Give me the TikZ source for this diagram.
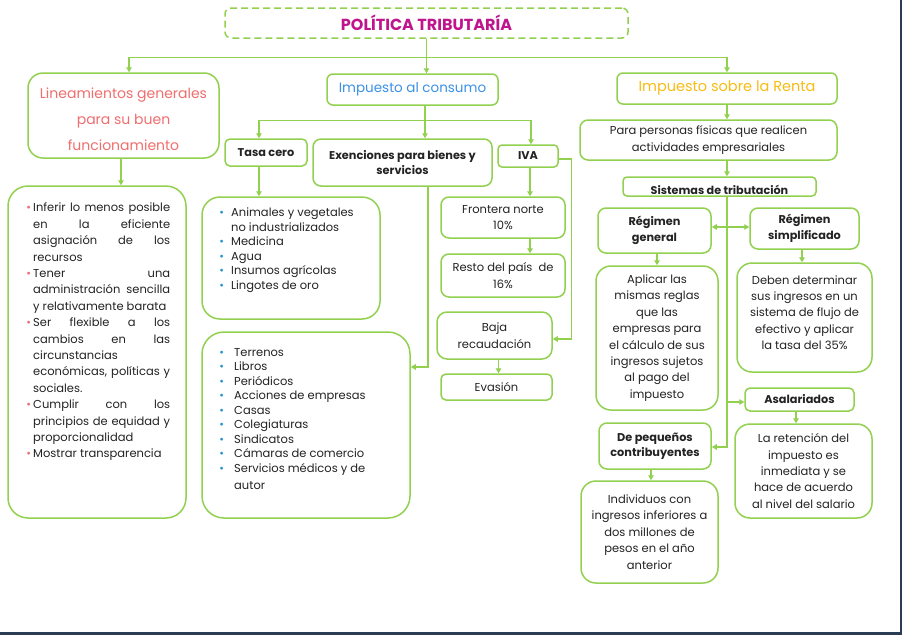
\documentclass[tikz,border=0pt]{standalone}
\usepackage{fontspec}
\setmainfont{Poppins}
\usetikzlibrary{arrows.meta}
\definecolor{gr}{RGB}{146,208,80}
\definecolor{mag}{RGB}{192,20,140}
\definecolor{sal}{RGB}{240,110,110}
\definecolor{blu}{RGB}{60,145,230}
\definecolor{yel}{RGB}{248,188,20}
\definecolor{bdot}{RGB}{40,150,210}
\definecolor{pdot}{RGB}{235,110,120}
\definecolor{tx}{RGB}{35,35,35}
\definecolor{frm}{RGB}{45,60,85}
\newcommand\jl[1]{\makebox[137pt][s]{#1}}
\newcommand\pb{\llap{\textcolor{pdot}{\textbullet}\hspace{2pt}}}
\newcommand\bb{\llap{\textcolor{bdot}{\textbullet}\hspace{7pt}}}
\newcommand\bbb{\llap{\textcolor{bdot}{\textbullet}\hspace{10pt}}}
\begin{document}
\begin{tikzpicture}[x=1pt,y=-1pt,
 bx/.style={draw=gr,line width=1.5pt,rounded corners=#1,inner sep=0pt,align=center,fill=white,text=tx},
 bx/.default=6pt,
 body/.style={font=\fontsize{11.5}{16.4}\selectfont},
 bold/.style={font=\fontsize{11.3}{15.5}\selectfont\bfseries},
 conn/.style={draw=gr,line width=1.2pt,-{Triangle[width=5.5pt,length=5pt]}},
 ln/.style={draw=gr,line width=1.2pt},
 txt/.style={inner sep=0pt,align=left,text=tx}]
\useasboundingbox (0,0) rectangle (902,635);
\fill[white] (0,0) rectangle (902,635);
\fill[frm] (0,632) rectangle (902,635);
\fill[frm] (899.5,0) rectangle (902,635);

% boxes
\node[bx=6pt,dash pattern=on 7pt off 4pt,minimum width=403pt,minimum height=30pt,
  font=\fontsize{16}{18}\selectfont\bfseries,text=mag] (title) at (426.5,23) {POLÍTICA TRIBUTARÍA};
\node[bx=15pt,minimum width=191pt,minimum height=85pt] (lin) at (123.5,115.5) {};
\node[inner sep=0pt,align=center,font=\fontsize{14}{26}\selectfont,text=sal]
  (lint) at (123.5,119) {Lineamientos generales\\para su buen\\funcionamiento};
\node[bx=6pt,minimum width=171pt,minimum height=31pt,font=\fontsize{13.5}{15}\selectfont,text=blu]
  (cons) at (412.5,89.5) {Impuesto al consumo};
\node[bx=6pt,minimum width=220pt,minimum height=31pt,font=\fontsize{14.5}{16}\selectfont,text=yel]
  (renta) at (727,88.5) {Impuesto sobre la Renta};
\node[bx=20pt,minimum width=178pt,minimum height=332pt] (left) at (97,352) {};
\node[bx=5pt,bold,minimum width=82pt,minimum height=27pt] (tasa) at (266,152.5) {Tasa cero};
\node[bx=8pt,bold,minimum width=179pt,minimum height=47pt] (exen) at (402.5,162.5) {Exenciones para bienes y\\servicios};
\node[bx=4pt,bold,minimum width=60pt,minimum height=22pt] (iva) at (528,156) {IVA};
\node[bx=18pt,minimum width=178pt,minimum height=122pt] (list1) at (291,258) {};
\node[bx=22pt,minimum width=208pt,minimum height=186pt] (list2) at (306,425) {};
\node[bx=8pt,body,minimum width=124pt,minimum height=41pt] (front) at (503,217.5) {Frontera norte\\10\%};
\node[bx=8pt,body,minimum width=124pt,minimum height=43pt] (resto) at (503,275.5) {Resto del país\ \ de\\16\%};
\node[bx=10pt,body,minimum width=115pt,minimum height=47pt] (baja) at (494.5,335.5) {Baja\\recaudación};
\node[bx=5pt,body,minimum width=111pt,minimum height=26pt] (evas) at (496.5,387) {Evasión};
\node[bx=8pt,body,minimum width=257pt,minimum height=40pt] (para) at (708.5,140) {Para personas físicas que realicen\\actividades empresariales};
\node[bx=4pt,minimum width=193pt,minimum height=19pt] (sist) at (719.5,186.5) {};
\begin{scope}
\clip ([shift={(2pt,2.8pt)}]sist.south west) rectangle ([shift={(-2pt,-1pt)}]sist.north east);
\node[inner sep=0pt,anchor=base,font=\fontsize{11.2}{12}\selectfont\bfseries,text=tx] (sistt) at (719.5,194.2) {Sistemas de tributación};
\end{scope}
\node[bx=8pt,bold,minimum width=113pt,minimum height=45pt] (rgen) at (654.5,230.5) {Régimen\\general};
\node[bx=8pt,bold,minimum width=109pt,minimum height=41pt] (rsim) at (804.5,228.5) {Régimen\\simplificado};
\node[bx=15pt,body,minimum width=122pt,minimum height=144pt] (apl) at (657,338)
  {Aplicar las\\mismas reglas\\que las\\empresas para\\el cálculo de sus\\ingresos sujetos\\al pago del\\impuesto};
\node[bx=15pt,minimum width=135pt,minimum height=109pt] (deben) at (804.5,317.5) {};
\node[txt,body,align=center] (debent) at (804.5,312.5)
  {Deben determinar\\sus ingresos en un\\sistema de flujo de\\efectivo y aplicar\\la tasa del 35\%};
\node[bx=5pt,bold,minimum width=109pt,minimum height=23pt] (asal) at (799.5,399.5) {Asalariados};
\node[bx=15pt,body,minimum width=137pt,minimum height=94pt] (ret) at (803.5,471)
  {La retención del\\impuesto es\\inmediata y se\\hace de acuerdo\\al nivel del salario};
\node[bx=8pt,bold,minimum width=112pt,minimum height=46pt] (peq) at (655,446) {De pequeños\\contribuyentes};
\node[bx=15pt,body,minimum width=137pt,minimum height=102pt] (ind) at (649.5,532)
  {Individuos con\\ingresos inferiores a\\dos millones de\\pesos en el año\\anterior};

% list texts
\node[txt,anchor=north west,body] (leftt) at (33,203) {%
\pb\jl{Inferir lo menos posible}\\
\jl{en la eficiente}\\
\jl{asignación de los}\\
recursos\\
\pb\jl{Tener una}\\
\jl{administración sencilla}\\
y relativamente barata\\
\pb\jl{Ser flexible a los}\\
\jl{cambios en las}\\
circunstancias\\
\jl{económicas, políticas y}\\
sociales.\\
\pb\jl{Cumplir con los}\\
\jl{principios de equidad y}\\
proporcionalidad\\
\pb Mostrar transparencia};
\node[txt,anchor=north west,font=\fontsize{11.5}{14.5}\selectfont] (l1t) at (231,208) {%
\bb Animales y vegetales\\no industrializados\\\bb Medicina\\\bb Agua\\\bb Insumos agrícolas\\\bb Lingotes de oro};
\node[txt,anchor=north west,font=\fontsize{11.5}{14.5}\selectfont] (l2t) at (234,348) {%
\bbb Terrenos\\\bbb Libros\\\bbb Periódicos\\\bbb Acciones de empresas\\\bbb Casas\\\bbb Colegiaturas\\\bbb Sindicatos\\\bbb Cámaras de comercio\\\bbb Servicios médicos y de\\[2.5pt]autor};

% connectors
\draw[ln] (title.south) -- ++(0,19) coordinate (j0);
\draw[conn] (j0) -| ([xshift=5.5pt]lin.north);
\draw[conn] (j0) -- (j0 |- cons.north);
\draw[conn] (j0) -| (renta.north);
\draw[conn] ([xshift=-2.5pt]lin.south) coordinate (t1) -- (t1 |- left.north);
\draw[ln] ([xshift=12.5pt]cons.south) -- ++(0,15) coordinate (j1);
\draw[conn] (j1) -| ([xshift=-7pt]tasa.north);
\draw[conn] (j1) -- (j1 |- exen.north);
\draw[conn] (j1) -| ([xshift=3pt]iva.north);
\draw[conn] ([xshift=-7pt]tasa.south) coordinate (t2) -- (t2 |- list1.north);
\draw[conn] ([xshift=25.5pt]exen.south) |- ([yshift=58pt]list2.east);
\draw[conn] ([xshift=2pt]iva.south) coordinate (t3) -- (t3 |- front.north);
\draw[conn] ([yshift=-3pt]iva.east) -- ++(13,0) |- ([yshift=-3.5pt]baja.east);
\draw[conn] ([xshift=27pt]front.south) coordinate (t4) -- (t4 |- resto.north);
\draw[conn] ([xshift=4pt]baja.south) coordinate (t5) -- (t5 |- evas.north);
\draw[conn] (renta.south) -- (renta.south |- para.north);
\draw[conn] (renta.south |- para.south) -- (renta.south |- sist.north);
\draw[conn] (renta.south |- sist.south) |- ([yshift=-1pt]peq.east);
\coordinate (ja) at (727,227);
\draw[conn] (ja) -- (ja -| rgen.east);
\draw[conn] (ja) -- (ja -| rsim.west);
\coordinate (jb) at (727,402);
\draw[conn] (jb) -- (jb -| asal.west);
\draw[conn] ([xshift=2.5pt]rgen.south) coordinate (t6) -- (t6 |- apl.north);
\draw[conn] ([xshift=-2.5pt]rsim.south) coordinate (t7) -- (t7 |- deben.north);
\draw[conn] ([xshift=-3.5pt]asal.south) coordinate (t8) -- (t8 |- ret.north);
\draw[conn] ([xshift=-4pt]peq.south) coordinate (t9) -- (t9 |- ind.north);
\end{tikzpicture}
\end{document}
